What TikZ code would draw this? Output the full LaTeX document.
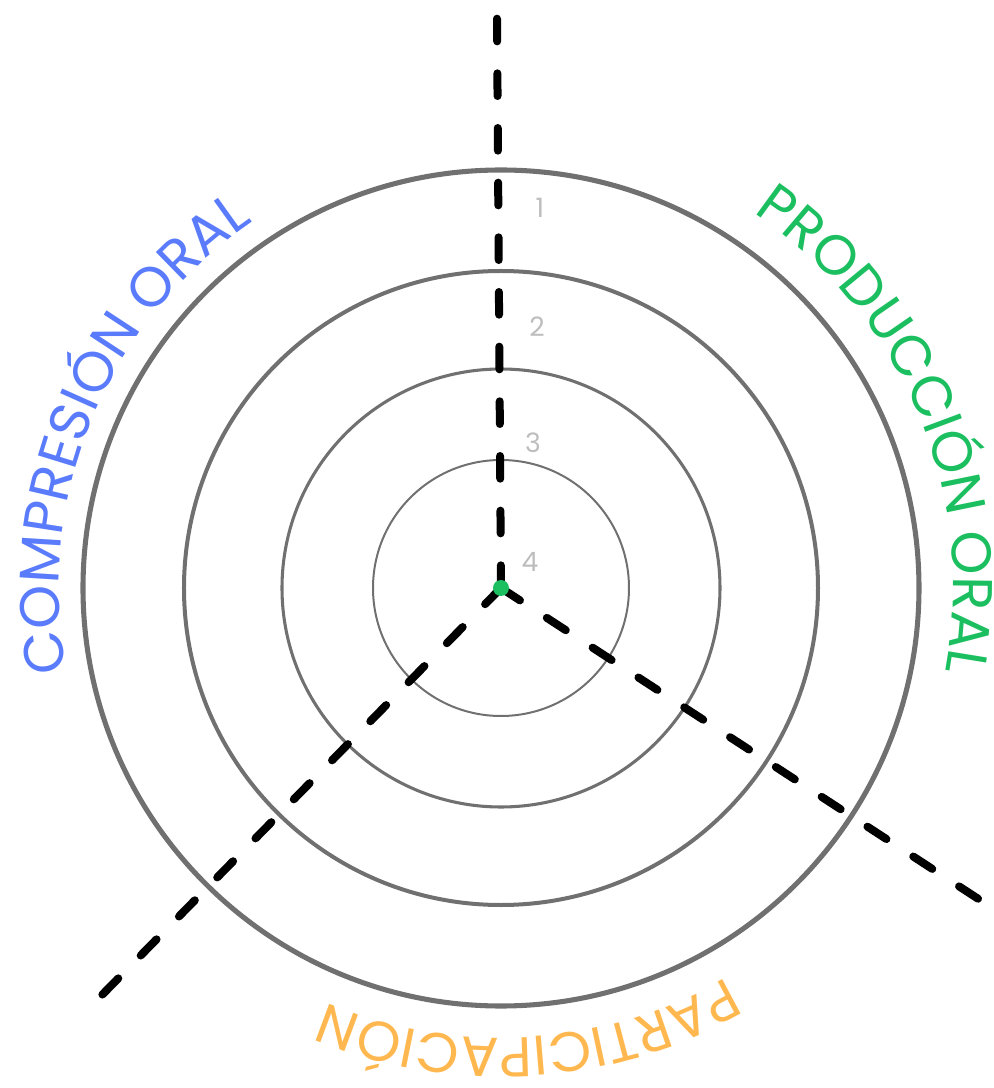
\documentclass[tikz,border=0pt]{standalone}
\usepackage{fontspec}
\setmainfont{Poppins}
\usetikzlibrary{decorations.text}

\definecolor{ringgray}{HTML}{707070}
\definecolor{levelgray}{HTML}{BDBDBD}
\definecolor{compblue}{HTML}{5A7CFC}
\definecolor{prodgreen}{HTML}{1BBF5F}
\definecolor{partorange}{HTML}{FFB84F}

\newcommand{\axislabelfont}{\fontsize{42}{42}\selectfont}

\tikzset{
  ring/.style={draw=ringgray},
  axisline/.style={line width=6pt,line cap=round,dash pattern=on 17pt off 24pt},
  levelnum/.style={text=levelgray,font=\fontsize{20}{20}\selectfont,inner sep=0pt},
}

\begin{document}
\begin{tikzpicture}[x=0.75pt,y=0.75pt]
    \useasboundingbox (-501,-500) rectangle (493,588);

    \coordinate (o) at (0,0);
    \coordinate (top) at (-4,570);
    \coordinate (lowleft) at (-401,-409);
    \coordinate (lowright) at (479,-312);

    % rings
    \draw[ring,line width=3.8pt] (o) circle (418);
    \draw[ring,line width=3pt] (o) circle (317);
    \draw[ring,line width=2.3pt] (o) circle (219);
    \draw[ring,line width=1.5pt] (o) circle (128);

    % axes
    \draw[axisline] (o) -- (top);
    \draw[axisline] (o) -- (lowleft);
    \draw[axisline] (o) -- (lowright);

    \fill[prodgreen] (o) circle (8);

    \node[levelnum] (n1) at (39,380) {1};
    \node[levelnum] (n2) at (36,261) {2};
    \node[levelnum] (n3) at (32,145) {3};
    \node[levelnum] (n4) at (29,26) {4};

    % axis names along the outer ring
    \path[decorate,decoration={text along path,text align=center,
      text={|\axislabelfont\color{compblue}|COMPRESIÓN ORAL}}]
      (202.5:442) arc[start angle=202.5,end angle=112.5,radius=442];
    \path[decorate,decoration={text along path,text align=center,
      text={|\axislabelfont\color{prodgreen}|PRODUCCIÓN ORAL}}]
      (67.7:452) arc[start angle=67.7,end angle=-22.3,radius=452];
    \path[decorate,decoration={text along path,text align=center,
      text={|\axislabelfont\color{partorange}|PARTICIPACIÓN}}]
      (-46.4:450) arc[start angle=-46.4,end angle=-126.4,radius=450];
\end{tikzpicture}
\end{document}
